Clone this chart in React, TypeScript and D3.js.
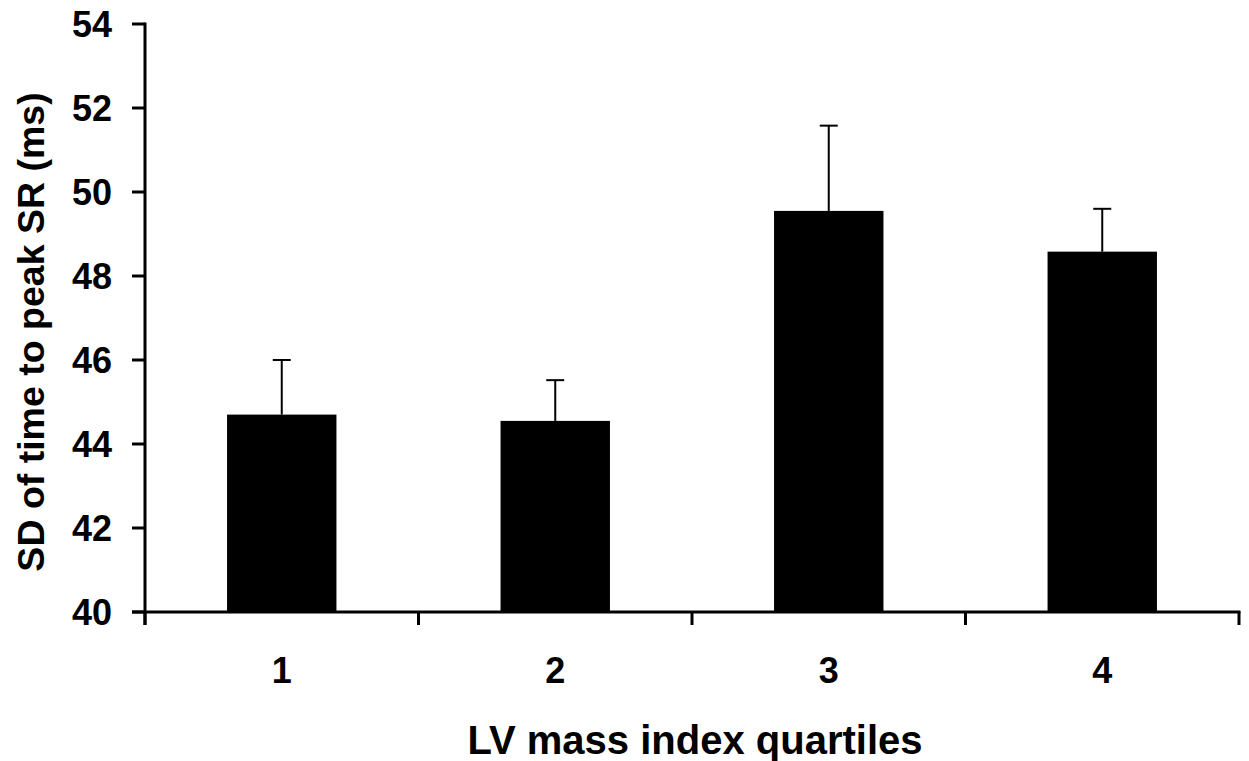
import * as d3 from "d3";
import { useEffect, useRef } from "react";

// quartiles of LV mass index
const quartiles = ["1", "2", "3", "4"];
// mean SD of time to peak SR (ms)
const means = [44.7, 44.55, 49.55, 48.58];
// upper end of the error bar
const upper = [46.0, 45.52, 51.58, 49.6];
const yTicks = [40, 42, 44, 46, 48, 50, 52, 54];

const W = 1249;
const H = 761;
const margin = { top: 24, right: 10, bottom: 149, left: 145 };
const font = "'Liberation Sans', Arial, sans-serif";

const App = () => {
    const ref = useRef<SVGSVGElement>(null);

    useEffect(() => {
        const svg = d3.select(ref.current);
        svg.selectAll("*").remove();

        const x0 = margin.left;
        const x1 = 1239;
        const y0 = H - margin.bottom;

        const x = d3.scaleBand().domain(quartiles).range([x0, x1]).paddingInner(0.6).paddingOuter(0.3);
        const xEdge = d3.scaleLinear().domain([0, quartiles.length]).range([x0, x1]);
        const y = d3.scaleLinear().domain([40, 54]).range([y0, margin.top]);

        const data = quartiles.map((q, i) => ({ q, m: means[i], u: upper[i] }));

        // error bars (drawn first so the bar covers the stem)
        const err = svg.append("g");
        err.selectAll("line.stem")
            .data(data)
            .enter()
            .append("line")
            .attr("x1", d => x(d.q)! + x.bandwidth() / 2)
            .attr("x2", d => x(d.q)! + x.bandwidth() / 2)
            .attr("y1", d => y(d.m))
            .attr("y2", d => y(d.u))
            .attr("stroke", "#000")
            .attr("stroke-width", 2);
        err.selectAll("line.cap")
            .data(data)
            .enter()
            .append("line")
            .attr("x1", d => x(d.q)! + x.bandwidth() / 2 - 9)
            .attr("x2", d => x(d.q)! + x.bandwidth() / 2 + 9)
            .attr("y1", d => y(d.u))
            .attr("y2", d => y(d.u))
            .attr("stroke", "#000")
            .attr("stroke-width", 2);

        // bars
        svg.append("g")
            .selectAll("rect")
            .data(data)
            .enter()
            .append("rect")
            .attr("x", d => x(d.q)!)
            .attr("y", d => y(d.m))
            .attr("width", x.bandwidth())
            .attr("height", d => y0 - y(d.m))
            .attr("fill", "#000");

        // y axis
        const yAxis = svg.append("g");
        yAxis.append("line")
            .attr("x1", x0).attr("x2", x0)
            .attr("y1", y(54) - 1.5).attr("y2", y0 + 13)
            .attr("stroke", "#000").attr("stroke-width", 3);
        yAxis.selectAll("line.tick")
            .data(yTicks)
            .enter()
            .append("line")
            .attr("x1", x0 - 13).attr("x2", x0)
            .attr("y1", d => y(d)).attr("y2", d => y(d))
            .attr("stroke", "#000").attr("stroke-width", 3);
        yAxis.selectAll("text")
            .data(yTicks)
            .enter()
            .append("text")
            .attr("x", 112)
            .attr("y", d => y(d))
            .attr("dy", "0.36em")
            .attr("text-anchor", "end")
            .style("font-family", font)
            .style("font-weight", "bold")
            .style("font-size", "36px")
            .text(d => d);

        // x axis
        const xAxis = svg.append("g");
        xAxis.append("line")
            .attr("x1", x0 - 13).attr("x2", x1 + 1.5)
            .attr("y1", y0).attr("y2", y0)
            .attr("stroke", "#000").attr("stroke-width", 3);
        xAxis.selectAll("line.tick")
            .data(d3.range(quartiles.length + 1))
            .enter()
            .append("line")
            .attr("x1", d => xEdge(d)).attr("x2", d => xEdge(d))
            .attr("y1", y0).attr("y2", y0 + 13)
            .attr("stroke", "#000").attr("stroke-width", 3);
        xAxis.selectAll("text")
            .data(quartiles)
            .enter()
            .append("text")
            .attr("x", d => x(d)! + x.bandwidth() / 2)
            .attr("y", 683)
            .attr("text-anchor", "middle")
            .style("font-family", font)
            .style("font-weight", "bold")
            .style("font-size", "36px")
            .text(d => d);

        // axis titles
        svg.append("text")
            .attr("x", 695)
            .attr("y", 754)
            .attr("text-anchor", "middle")
            .style("font-family", font)
            .style("font-weight", "bold")
            .style("font-size", "40px")
            .text("LV mass index quartiles");

        svg.append("text")
            .attr("transform", "translate(44, 332) rotate(-90)")
            .attr("text-anchor", "middle")
            .style("font-family", font)
            .style("font-weight", "bold")
            .style("font-size", "37.5px")
            .text("SD of time to peak SR (ms)");
    }, []);

    return (
        <svg
            ref={ref}
            width={W}
            height={H}
            style={{ position: "absolute", left: 0, top: 0, background: "#fff" }}
        ></svg>
    );
};

export default App;
